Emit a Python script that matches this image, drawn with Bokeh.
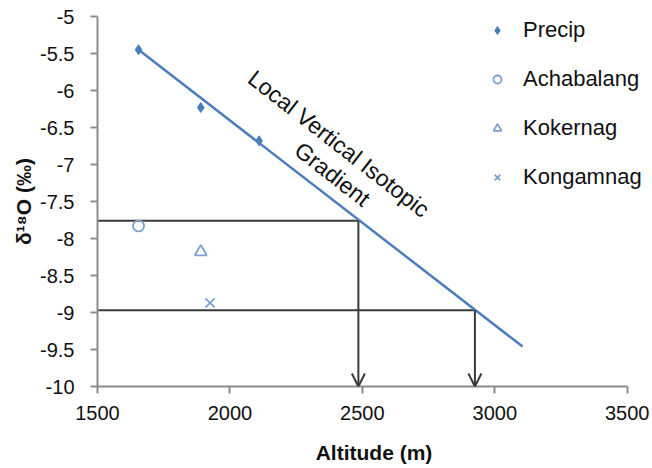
from bokeh.plotting import figure
from bokeh.models import Range1d, FixedTicker, NumeralTickFormatter, Legend, LegendItem, Arrow, OpenHead
from bokeh.core.properties import value
from bokeh.embed import file_html
from bokeh.resources import INLINE

# ---- data ----
precip_alt = [1655, 1890, 2110]
precip_d18o = [-5.45, -6.23, -6.68]
achabalang_alt = [1655]
achabalang_d18o = [-7.83]
kokernag_alt = [1890]
kokernag_d18o = [-8.18]
kongamnag_alt = [1925]
kongamnag_d18o = [-8.87]
gradient_alt = [1655, 3105]
gradient_d18o = [-5.45, -9.46]
guide_d18o = [-7.76, -8.97]
guide_alt = [2485, 2925]
x_ticks = [1500, 2000, 2500, 3000, 3500]
y_ticks = [-5, -5.5, -6, -6.5, -7, -7.5, -8, -8.5, -9, -9.5, -10]
x_min, x_max = 1500, 3500
y_min, y_max = -10, -5
x_view_max = 3588  # extra room right of the axis end for the legend labels

BLUE = "#4a7ebb"
LIGHT = "#7a9fd0"
FONT = "Liberation Sans"

p = figure(width=652, height=468, output_backend="svg", toolbar_location=None,
           x_range=Range1d(x_min, x_view_max), y_range=Range1d(y_min, y_max),
           min_border_left=97, min_border_top=16, min_border_right=2, min_border_bottom=82)
p.outline_line_color = None
p.grid.visible = False
p.background_fill_color = "white"

for ax in (p.xaxis[0], p.yaxis[0]):
    ax.axis_line_color = "#8c8c8c"
    ax.axis_line_width = 2
    ax.major_tick_line_color = "#8c8c8c"
    ax.major_tick_line_width = 2
    ax.major_tick_out = 7
    ax.major_tick_in = 0
    ax.minor_tick_line_color = None
    ax.major_label_text_font = FONT
    ax.major_label_text_font_size = "20px"
    ax.major_label_text_color = "#111111"
    ax.axis_label_text_font = FONT
    ax.axis_label_text_font_style = "bold"
    ax.axis_label_text_color = "#111111"

p.xaxis.bounds = (x_min, x_max)
p.xaxis.ticker = FixedTicker(ticks=x_ticks)
p.yaxis.ticker = FixedTicker(ticks=y_ticks)
p.yaxis.formatter = NumeralTickFormatter(format="0.[0]")
p.xaxis.formatter = NumeralTickFormatter(format="0")
p.yaxis.major_label_standoff = 16
p.xaxis.major_label_standoff = 12
p.xaxis.axis_label = "Altitude (m)"
p.yaxis.axis_label = "δ¹⁸O (‰)"
p.xaxis.axis_label_text_font_size = "21px"
p.yaxis.axis_label_text_font_size = "21px"
p.xaxis.axis_label_standoff = 18
p.yaxis.axis_label_standoff = 2

# guide lines
p.segment(x0=[x_min] * len(guide_d18o), y0=guide_d18o, x1=guide_alt, y1=guide_d18o,
          line_color="#3a3a3a", line_width=2)
for a, d in zip(guide_alt, guide_d18o):
    p.add_layout(Arrow(end=OpenHead(size=13, line_color="#3a3a3a", line_width=2),
                       x_start=a, y_start=d, x_end=a, y_end=y_min,
                       line_color="#3a3a3a", line_width=2))

# gradient line
p.line(gradient_alt, gradient_d18o, line_color=BLUE, line_width=2.5)

r_pre = p.scatter(precip_alt, precip_d18o, marker="diamond", size=10, fill_color=BLUE, line_color=BLUE)
r_ach = p.scatter(achabalang_alt, achabalang_d18o, marker="circle", size=11, fill_color=None,
                  line_color=LIGHT, line_width=1.8)
r_kok = p.scatter(kokernag_alt, kokernag_d18o, marker="triangle", size=12, fill_color=None,
                  line_color=LIGHT, line_width=1.8)
r_kon = p.scatter(kongamnag_alt, kongamnag_d18o, marker="x", size=13,
                  line_color=LIGHT, line_width=1.8)

p.text(x=[2411], y=[-6.72], text=["Local Vertical Isotopic"], angle=-38, angle_units="deg",
       text_align="center", text_baseline="middle", text_font=value(FONT),
       text_font_size="23px", text_color="#111111")
p.text(x=[2387], y=[-7.13], text=["Gradient"], angle=-38, angle_units="deg",
       text_align="center", text_baseline="middle", text_font=value(FONT),
       text_font_size="23px", text_color="#111111")

legend = Legend(items=[LegendItem(label="Precip", renderers=[r_pre]),
                       LegendItem(label="Achabalang", renderers=[r_ach]),
                       LegendItem(label="Kokernag", renderers=[r_kok]),
                       LegendItem(label="Kongamnag", renderers=[r_kon])],
                location=(390, 196), glyph_width=20, glyph_height=20, label_height=20,
                spacing=23, padding=0, margin=0, label_standoff=16,
                border_line_alpha=0, background_fill_alpha=0,
                label_text_font=FONT, label_text_font_size="22px", label_text_color="#111111")
p.add_layout(legend)

open("out.html", "w").write(file_html(p, INLINE))
